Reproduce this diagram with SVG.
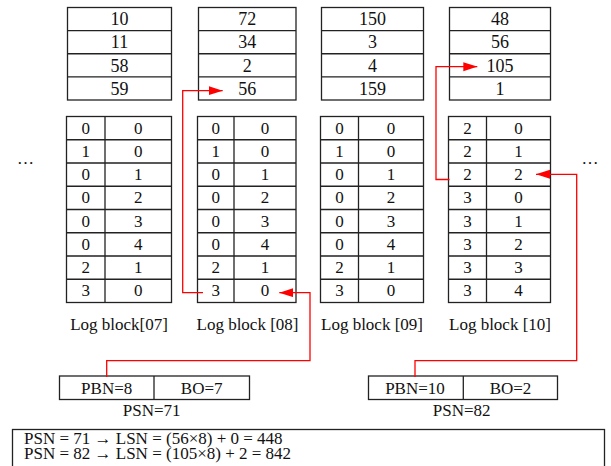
<svg xmlns="http://www.w3.org/2000/svg" width="611" height="466" viewBox="0 0 611 466">
  <style>
    .cell { fill: #ffffff; stroke: #222; stroke-width: 1.3; }
    .ln { stroke: #222; stroke-width: 1.3; fill: none; }
    .t { font-family: "Liberation Serif", "Times New Roman", serif; font-size: 17px; fill: #111; text-anchor: middle; }
    .tb { font-family: "Liberation Serif", "Times New Roman", serif; font-size: 18px; fill: #111; text-anchor: middle; }
    .tl { font-family: "Liberation Serif", "Times New Roman", serif; font-size: 17px; fill: #111; }
    .red { stroke: #ff0000; stroke-width: 1.3; fill: none; marker-end: url(#ah); }
  </style>
  <defs>
    <marker id="ah" markerUnits="userSpaceOnUse" markerWidth="14" markerHeight="10" refX="14" refY="4.5" orient="auto">
      <path d="M0,0 L14,4.5 L0,9 z" fill="#ff0000"/>
    </marker>
  </defs>
  <rect width="611" height="466" fill="#ffffff"/>

  <!-- data blocks (top row) -->
  <g id="data07">
    <rect class="cell" x="67.5" y="7.5" width="104" height="92.5"/>
    <path class="ln" d="M67.5,30.6H171.5M67.5,53.75H171.5M67.5,76.9H171.5"/>
    <text class="tb" x="119.5" y="25">10</text>
    <text class="tb" x="119.5" y="48">11</text>
    <text class="tb" x="119.5" y="71.5">58</text>
    <text class="tb" x="119.5" y="94.5">59</text>
  </g>
  <g id="data08">
    <rect class="cell" x="198.5" y="7.5" width="97.5" height="92.5"/>
    <path class="ln" d="M198.5,30.6H296M198.5,53.75H296M198.5,76.9H296"/>
    <text class="tb" x="247.25" y="25">72</text>
    <text class="tb" x="247.25" y="48">34</text>
    <text class="tb" x="247.25" y="71.5">2</text>
    <text class="tb" x="247.25" y="94.5">56</text>
  </g>
  <g id="data09">
    <rect class="cell" x="321.5" y="7.5" width="102" height="92.5"/>
    <path class="ln" d="M321.5,30.6H423.5M321.5,53.75H423.5M321.5,76.9H423.5"/>
    <text class="tb" x="372.5" y="25">150</text>
    <text class="tb" x="372.5" y="48">3</text>
    <text class="tb" x="372.5" y="71.5">4</text>
    <text class="tb" x="372.5" y="94.5">159</text>
  </g>
  <g id="data10">
    <rect class="cell" x="449.5" y="7.5" width="101" height="92.5"/>
    <path class="ln" d="M449.5,30.6H550.5M449.5,53.75H550.5M449.5,76.9H550.5"/>
    <text class="tb" x="500" y="25">48</text>
    <text class="tb" x="500" y="48">56</text>
    <text class="tb" x="500" y="71.5">105</text>
    <text class="tb" x="500" y="94.5">1</text>
  </g>

  <!-- log blocks (mapping tables) -->
  <g id="log07">
    <rect class="cell" x="66.5" y="116.5" width="105" height="186"/>
    <path class="ln" d="M105,116.5V302.5M66.5,139.75H171.5M66.5,163H171.5M66.5,186.25H171.5M66.5,209.5H171.5M66.5,232.75H171.5M66.5,256H171.5M66.5,279.25H171.5"/>
    <g class="t">
      <text x="85.8" y="133.5">0</text><text x="138.2" y="133.5">0</text>
      <text x="85.8" y="156.7">1</text><text x="138.2" y="156.7">0</text>
      <text x="85.8" y="180">0</text><text x="138.2" y="180">1</text>
      <text x="85.8" y="203.2">0</text><text x="138.2" y="203.2">2</text>
      <text x="85.8" y="226.5">0</text><text x="138.2" y="226.5">3</text>
      <text x="85.8" y="249.7">0</text><text x="138.2" y="249.7">4</text>
      <text x="85.8" y="273">2</text><text x="138.2" y="273">1</text>
      <text x="85.8" y="296.2">3</text><text x="138.2" y="296.2">0</text>
    </g>
    <text class="t" x="119" y="330">Log block[07]</text>
  </g>
  <g id="log08">
    <rect class="cell" x="197.5" y="116.5" width="98.5" height="186"/>
    <path class="ln" d="M234,116.5V302.5M197.5,139.75H296M197.5,163H296M197.5,186.25H296M197.5,209.5H296M197.5,232.75H296M197.5,256H296M197.5,279.25H296"/>
    <g class="t">
      <text x="215.8" y="133.5">0</text><text x="265" y="133.5">0</text>
      <text x="215.8" y="156.7">1</text><text x="265" y="156.7">0</text>
      <text x="215.8" y="180">0</text><text x="265" y="180">1</text>
      <text x="215.8" y="203.2">0</text><text x="265" y="203.2">2</text>
      <text x="215.8" y="226.5">0</text><text x="265" y="226.5">3</text>
      <text x="215.8" y="249.7">0</text><text x="265" y="249.7">4</text>
      <text x="215.8" y="273">2</text><text x="265" y="273">1</text>
      <text x="215.8" y="296.2">3</text><text x="265" y="296.2">0</text>
    </g>
    <text class="t" x="247.5" y="330">Log block [08]</text>
  </g>
  <g id="log09">
    <rect class="cell" x="320.5" y="116.5" width="103" height="186"/>
    <path class="ln" d="M358.5,116.5V302.5M320.5,139.75H423.5M320.5,163H423.5M320.5,186.25H423.5M320.5,209.5H423.5M320.5,232.75H423.5M320.5,256H423.5M320.5,279.25H423.5"/>
    <g class="t">
      <text x="339.5" y="133.5">0</text><text x="391" y="133.5">0</text>
      <text x="339.5" y="156.7">1</text><text x="391" y="156.7">0</text>
      <text x="339.5" y="180">0</text><text x="391" y="180">1</text>
      <text x="339.5" y="203.2">0</text><text x="391" y="203.2">2</text>
      <text x="339.5" y="226.5">0</text><text x="391" y="226.5">3</text>
      <text x="339.5" y="249.7">0</text><text x="391" y="249.7">4</text>
      <text x="339.5" y="273">2</text><text x="391" y="273">1</text>
      <text x="339.5" y="296.2">3</text><text x="391" y="296.2">0</text>
    </g>
    <text class="t" x="372" y="330">Log block [09]</text>
  </g>
  <g id="log10">
    <rect class="cell" x="448.5" y="116.5" width="102" height="186"/>
    <path class="ln" d="M486.5,116.5V302.5M448.5,139.75H550.5M448.5,163H550.5M448.5,186.25H550.5M448.5,209.5H550.5M448.5,232.75H550.5M448.5,256H550.5M448.5,279.25H550.5"/>
    <g class="t">
      <text x="467.5" y="133.5">2</text><text x="518.5" y="133.5">0</text>
      <text x="467.5" y="156.7">2</text><text x="518.5" y="156.7">1</text>
      <text x="467.5" y="180">2</text><text x="518.5" y="180">2</text>
      <text x="467.5" y="203.2">3</text><text x="518.5" y="203.2">0</text>
      <text x="467.5" y="226.5">3</text><text x="518.5" y="226.5">1</text>
      <text x="467.5" y="249.7">3</text><text x="518.5" y="249.7">2</text>
      <text x="467.5" y="273">3</text><text x="518.5" y="273">3</text>
      <text x="467.5" y="296.2">3</text><text x="518.5" y="296.2">4</text>
    </g>
    <text class="t" x="500" y="330">Log block [10]</text>
  </g>

  <!-- ellipses either side -->
  <text id="more-left" class="t" x="25.5" y="164">…</text>
  <text id="more-right" class="t" x="590" y="164">…</text>

  <!-- physical sector addresses -->
  <g id="psn71">
    <rect class="cell" x="59.5" y="376" width="190" height="23.5"/>
    <path class="ln" d="M154,376V399.5"/>
    <text class="t" x="106.7" y="393.5">PBN=8</text>
    <text class="t" x="201.7" y="393.5">BO=7</text>
    <text class="t" x="151.7" y="416">PSN=71</text>
  </g>
  <g id="psn82">
    <rect class="cell" x="368.5" y="376" width="189" height="23.5"/>
    <path class="ln" d="M463.3,376V399.5"/>
    <text class="t" x="415" y="393.5">PBN=10</text>
    <text class="t" x="510.5" y="393.5">BO=2</text>
    <text class="t" x="461.7" y="416">PSN=82</text>
  </g>

  <!-- result formulas -->
  <g id="formula">
    <rect class="cell" x="12.5" y="429.5" width="592" height="45"/>
    <text class="tl" x="24" y="443.5">PSN = 71 → LSN = (56×8) + 0 = 448</text>
    <text class="tl" x="24" y="459">PSN = 82 → LSN = (105×8) + 2 = 842</text>
  </g>

  <!-- lookup connectors -->
  <g id="connectors">
    <path class="red" d="M106.7,377V360.7H310V292.7H279.3"/>
    <path class="red" d="M203,292.7H182.7V90.7H222.7"/>
    <path class="red" d="M415,377V360.7H576.7V174.3H536"/>
    <path class="red" d="M449.5,179.5H436V66.7H477.3"/>
  </g>
</svg>
